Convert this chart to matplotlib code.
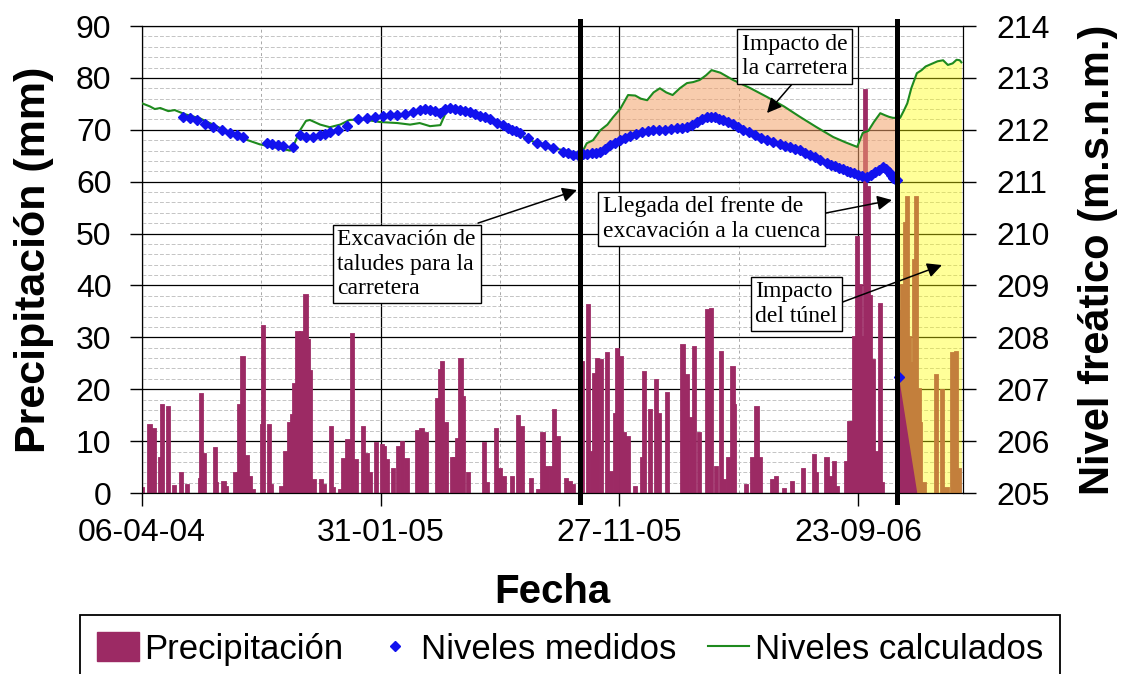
import datetime as dt
import numpy as np
import matplotlib
matplotlib.use('Agg')
import matplotlib.pyplot as plt
import matplotlib.dates as mdates
from matplotlib.ticker import MultipleLocator, FixedLocator
from matplotlib.patches import Patch
from matplotlib.lines import Line2D

plt.rcParams['font.family'] = ['Liberation Sans', 'DejaVu Sans']

start_date = dt.date(2004, 4, 6)
x_end_day = 1032
tick_step = 300

# precipitacion diaria: dias desde start_date, mm
precip_day = [1, 10, 16, 23, 26, 33, 41, 50, 57, 73, 75, 78, 92, 94, 103, 106,
              118, 121, 123, 127, 132, 136, 140, 151, 153, 160, 162, 176, 180,
              185, 189, 192, 196, 201, 206, 209, 212, 217, 226, 229, 238, 241,
              250, 253, 259, 265, 270, 278, 283, 287, 295, 302, 305, 309, 316,
              322, 327, 333, 346, 352, 358, 371, 375, 378, 383, 390, 393, 397,
              401, 404, 410, 431, 434, 446, 450, 456, 466, 473, 478, 490, 498,
              504, 509, 515, 519, 523, 534, 538, 542, 554, 561, 566, 569, 573,
              578, 585, 590, 595, 598, 603, 607, 611, 620, 629, 632, 639, 647,
              651, 661, 680, 685, 691, 695, 701, 711, 716, 722, 728, 732, 737,
              743, 745, 760, 768, 773, 777, 793, 798, 808, 818, 831, 845, 848,
              861, 865, 870, 874, 886, 890, 893, 896, 899, 903, 905, 909, 913,
              916, 919, 924, 928, 931, 953, 956, 960, 962, 965, 968, 971, 974,
              977, 979, 984, 999, 1006, 1012, 1019, 1024, 1028]
precip_mm = [1.0, 13.2, 12.4, 6.7, 16.9, 16.5, 1.3, 3.8, 1.5, 2.8, 19.0, 7.6,
             8.6, 1.9, 2.2, 1.2, 3.8, 3.8, 16.9, 26.2, 7.1, 3.1, 0.6, 13.2,
             32.1, 13.2, 1.5, 1.2, 8.0, 13.4, 15.1, 21.1, 31.0, 31.0, 38.2,
             29.4, 23.5, 2.5, 2.6, 1.5, 12.8, 1.0, 0.6, 6.5, 10.2, 30.6, 6.3,
             12.8, 7.6, 3.8, 9.6, 9.2, 8.9, 6.3, 4.7, 8.9, 9.9, 6.5, 12.0, 12.4,
             11.5, 18.2, 23.7, 25.3, 13.4, 6.7, 6.7, 10.5, 25.9, 18.5, 3.8, 9.6,
             1.9, 12.4, 4.7, 3.0, 3.1, 14.8, 12.8, 2.8, 0.6, 11.5, 5.1, 5.1,
             16.0, 10.8, 2.8, 2.2, 1.5, 25.3, 36.2, 8.0, 23.0, 25.9, 25.6, 26.9,
             4.1, 15.3, 27.8, 26.2, 11.5, 10.8, 1.2, 6.7, 23.3, 16.0, 21.7,
             15.3, 19.2, 28.5, 22.7, 14.4, 28.2, 11.5, 35.2, 35.5, 5.1, 27.2,
             2.5, 6.7, 24.3, 16.9, 1.5, 6.7, 16.6, 6.7, 2.5, 3.1, 0.7, 2.2, 4.7,
             7.3, 3.8, 6.7, 3.1, 6.0, 1.2, 6.0, 13.7, 13.7, 30.0, 49.3, 40.0,
             30.0, 77.6, 59.0, 38.0, 25.6, 8.0, 36.5, 2.0, 35.0, 40.0, 52.0,
             57.0, 30.0, 25.0, 45.0, 57.0, 20.0, 13.4, 2.0, 22.7, 19.8, 1.0,
             26.9, 27.2, 4.7]

# niveles medidos (m.s.n.m.)
meas_day = [52, 60, 69, 79, 89, 101, 111, 119, 127, 157, 163, 171, 177, 190,
            199, 206, 215, 224, 230, 236, 246, 258, 272, 283, 293, 303, 312,
            321, 331, 341, 349, 356, 362, 368, 375, 381, 387, 393, 400, 406,
            412, 419, 425, 431, 437, 446, 454, 460, 465, 470, 475, 485, 497,
            507, 517, 529, 535, 542, 548, 554, 559, 566, 571, 576, 582, 588,
            595, 601, 607, 613, 621, 629, 636, 642, 650, 657, 665, 673, 679,
            685, 691, 698, 704, 710, 715, 720, 725, 730, 737, 743, 749, 755,
            763, 771, 778, 786, 793, 802, 808, 815, 821, 827, 833, 840, 846,
            852, 861, 866, 871, 876, 881, 886, 890, 895, 900, 905, 911, 916,
            921, 926, 931, 935, 939, 941, 944, 946, 949, 951, 979]
meas_level = [212.24, 212.22, 212.19, 212.12, 212.05, 211.99, 211.94, 211.90,
              211.86, 211.74, 211.72, 211.70, 211.69, 211.67, 211.90, 211.86,
              211.86, 211.90, 211.92, 211.96, 212.00, 212.07, 212.20, 212.23,
              212.24, 212.26, 212.28, 212.28, 212.31, 212.34, 212.38, 212.40,
              212.38, 212.36, 212.33, 212.40, 212.42, 212.40, 212.38, 212.36,
              212.34, 212.30, 212.27, 212.24, 212.20, 212.14, 212.09, 212.04,
              212.00, 211.97, 211.94, 211.84, 211.74, 211.70, 211.65, 211.58,
              211.55, 211.51, 211.52, 211.53, 211.54, 211.55, 211.56, 211.57,
              211.63, 211.70, 211.75, 211.80, 211.84, 211.88, 211.92, 211.95,
              211.97, 211.99, 211.99, 212.00, 212.02, 212.03, 212.04, 212.05,
              212.10, 212.15, 212.20, 212.25, 212.25, 212.24, 212.21, 212.19,
              212.15, 212.12, 212.06, 212.00, 211.95, 211.90, 211.85, 211.80,
              211.76, 211.72, 211.69, 211.66, 211.63, 211.61, 211.56, 211.52,
              211.47, 211.42, 211.36, 211.33, 211.30, 211.27, 211.24, 211.21,
              211.19, 211.16, 211.13, 211.11, 211.09, 211.13, 211.18, 211.23,
              211.28, 211.24, 211.18, 211.13, 211.07, 211.05, 211.03, 207.24,
              204.50]

# niveles calculados (m.s.n.m.)
calc_day = [0, 10, 16, 23, 33, 41, 54, 73, 92, 111, 129, 148, 167, 186, 192,
            199, 206, 211, 224, 236, 249, 261, 278, 299, 321, 337, 349, 362,
            375, 385, 397, 412, 434, 454, 475, 496, 519, 542, 551, 556, 559,
            567, 576, 585, 592, 601, 611, 620, 627, 635, 643, 651, 659, 667,
            676, 685, 693, 701, 709, 716, 727, 743, 765, 786, 807, 827, 848,
            869, 884, 899, 906, 913, 920, 928, 934, 939, 944, 953, 958, 962,
            967, 974, 980, 985, 994, 1000, 1007, 1013, 1019, 1024, 1028, 1030]
calc_level = [212.51, 212.45, 212.40, 212.42, 212.36, 212.38, 212.30, 212.22,
              212.08, 211.94, 211.82, 211.72, 211.66, 211.60, 211.75, 212.00,
              212.17, 212.19, 212.10, 212.05, 212.10, 212.19, 212.20, 212.15,
              212.13, 212.10, 212.13, 212.07, 212.09, 212.44, 212.42, 212.38,
              212.22, 212.05, 211.90, 211.74, 211.64, 211.57, 211.55, 211.65,
              211.74, 211.80, 211.99, 212.10, 212.24, 212.40, 212.67, 212.66,
              212.60, 212.57, 212.72, 212.80, 212.72, 212.67, 212.80, 212.90,
              212.92, 212.96, 213.05, 213.15, 213.10, 212.96, 212.80, 212.63,
              212.45, 212.25, 212.05, 211.86, 211.76, 211.67, 211.94, 211.98,
              212.15, 212.32, 212.28, 212.25, 212.23, 212.23, 212.38, 212.51,
              212.80, 213.09, 213.15, 213.22, 213.28, 213.32, 213.34, 213.25,
              213.28, 213.35, 213.34, 213.30]

event_days = [551, 949]  # llegada de la excavacion / inicio del tunel

maroon = '#9C2A64'
base = mdates.date2num(start_date)


def to_x(days):
    return base + np.asarray(days, dtype=float)


fig = plt.figure(figsize=(11.3, 6.74), dpi=100)
ax = fig.add_subplot()
fig.subplots_adjust(left=0.1257, right=0.8522, bottom=0.2685, top=0.9614)
ax2 = ax.twinx()

# barras de precipitacion
ax.bar(to_x(precip_day), precip_mm, width=4.0, color=maroon,
       edgecolor=maroon, linewidth=1.3, zorder=2)
ax.set_ylim(0, 90)
ax.set_xlim(base, base + x_end_day)
ax.set_axisbelow(True)

ax.yaxis.set_major_locator(MultipleLocator(10))
ax.yaxis.set_minor_locator(MultipleLocator(2))
ax.xaxis.set_major_locator(FixedLocator(to_x(range(0, x_end_day, tick_step))))
ax.xaxis.set_minor_locator(FixedLocator(to_x(range(tick_step // 2, x_end_day, tick_step))))
ax.xaxis.set_major_formatter(mdates.DateFormatter('%d-%m-%y'))
ax.grid(which='major', color='black', lw=0.9)
ax.grid(which='minor', axis='y', color='#c4c4c4', ls=(0, (4, 2)), lw=0.7)
ax.grid(which='minor', axis='x', color='#a8a8a8', ls=(0, (3, 3)), lw=0.7)
ax.tick_params(which='major', labelsize=23, length=9, width=1)
ax.tick_params(axis='y', which='major', pad=13)
ax.tick_params(axis='x', which='major', pad=9)
ax.tick_params(which='minor', length=0)

# areas de impacto
grid1 = np.array(sorted(d for d in set(calc_day + meas_day) if event_days[0] <= d <= event_days[1]))
ax2.fill_between(to_x(grid1), np.interp(grid1, meas_day, meas_level),
                 np.interp(grid1, calc_day, calc_level),
                 color='#F4A26A', alpha=0.55, lw=0, zorder=1)
grid2 = np.array(sorted(d for d in set(calc_day + meas_day) if event_days[1] <= d <= calc_day[-1]))
ax2.fill_between(to_x(grid2), np.maximum(np.interp(grid2, meas_day, meas_level), 205),
                 np.interp(grid2, calc_day, calc_level),
                 color='#FFFF00', alpha=0.4, lw=0, zorder=1)

ax2.plot(to_x(calc_day), calc_level, color='#1E8A1E', lw=1.5, zorder=3)
ax2.plot(to_x(meas_day), meas_level, ls='none', marker='D', ms=5.5,
         color='#1212EE', zorder=4)
ax2.set_ylim(205, 214)
ax2.yaxis.set_major_locator(MultipleLocator(1))
ax2.tick_params(labelsize=23, length=9, width=1, pad=15)

for d in event_days:
    ax2.axvline(to_x(d), ymin=-0.02, ymax=1.01, color='black', lw=3.6,
                clip_on=False, zorder=6)

ax.set_ylabel('Precipitación (mm)', fontsize=31, fontweight='bold', labelpad=16)
ax2.set_ylabel('Nivel freático (m.s.n.m.)', fontsize=30, fontweight='bold', labelpad=20)
ax.set_xlabel('Fecha', fontsize=29, fontweight='bold', labelpad=18)

# cuadros de texto con flechas
boxes = [
    ('Excavación de\ntaludes para la\ncarretera', (0.3222, 0.4904), (0.4093, 0.578), (0.5298, 0.6488)),
    ('Llegada del frente de\nexcavación a la cuenca', (0.6937, 0.5867), (0.8331, 0.5996), (0.9135, 0.6274)),
    ('Impacto de\nla carretera', (0.7948, 0.9347), (0.7929, 0.878), (0.7613, 0.8137)),
    ('Impacto\ndel túnel', (0.7972, 0.4047), (0.8502, 0.4069), (0.9744, 0.4882)),
]
for label, pos, tail, head in boxes:
    ax2.annotate('', xy=head, xytext=tail, xycoords='axes fraction',
                 arrowprops=dict(arrowstyle='-|>', color='black', lw=1.1,
                                 mutation_scale=22, shrinkA=0, shrinkB=0),
                 zorder=7)
    ax2.text(pos[0], pos[1], label, transform=ax2.transAxes, ha='center',
             va='center', multialignment='left', fontsize=17,
             family=['Liberation Serif', 'DejaVu Serif'], zorder=8,
             bbox=dict(boxstyle='square,pad=0.2', fc='white', ec='black', lw=1))

handles = [Patch(color=maroon),
           Line2D([], [], ls='none', marker='D', ms=5, color='#1212EE'),
           Line2D([], [], color='#1E8A1E', lw=1.5)]
fig.legend(handles, ['Precipitación', 'Niveles medidos', 'Niveles calculados'],
           loc='upper center', bbox_to_anchor=(0.5044, 0.0875), ncol=3,
           fontsize=25, frameon=True, fancybox=False, edgecolor='black',
           framealpha=1, borderaxespad=0, handlelength=1.2, handleheight=0.9,
           handletextpad=0.15, columnspacing=0.9, borderpad=0.5)
fig.legends[0].get_frame().set_linewidth(1.3)

fig.savefig('out.png', dpi=100)
